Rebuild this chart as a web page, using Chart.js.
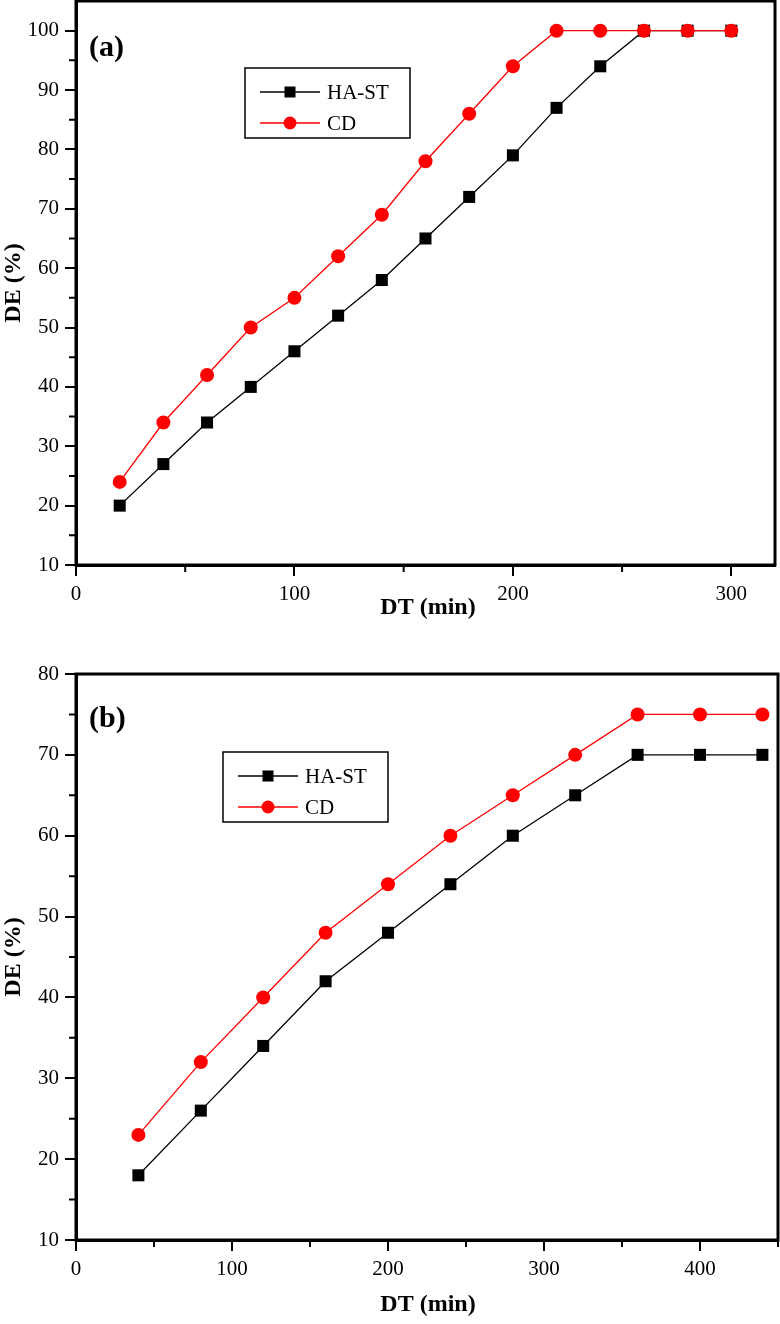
<!DOCTYPE html>
<html>
<head>
<meta charset="utf-8">
<script src="https://cdn.jsdelivr.net/npm/chart.js@4.4.0/dist/chart.umd.min.js"></script>
<style>
  body { margin: 0; background: #fff; }
  #wrapA { position: absolute; left: 0; top: 0; width: 780px; height: 640px; }
  #wrapB { position: absolute; left: 0; top: 640px; width: 780px; height: 684px; }
</style>
</head>
<body>
<div id="wrapA"><canvas id="chartA" width="780" height="640"></canvas></div>
<div id="wrapB"><canvas id="chartB" width="780" height="684"></canvas></div>
<script>
// panel (a)
const timeA = [20, 40, 60, 80, 100, 120, 140, 160, 180, 200, 220, 240, 260, 280, 300];
const hastA = [20, 27, 34, 40, 46, 52, 58, 65, 72, 79, 87, 94, 100, 100, 100];
const cdA   = [24, 34, 42, 50, 55, 62, 69, 78, 86, 94, 100, 100, 100, 100, 100];
const xMinorA = [50, 150, 250];
const yMinorA = [15, 25, 35, 45, 55, 65, 75, 85, 95];

// panel (b)
const timeB = [40, 80, 120, 160, 200, 240, 280, 320, 360, 400, 440];
const hastB = [18, 26, 34, 42, 48, 54, 60, 65, 70, 70, 70];
const cdB   = [23, 32, 40, 48, 54, 60, 65, 70, 75, 75, 75];
const xMinorB = [50, 150, 250, 350, 450];
const yMinorB = [15, 25, 35, 45, 55, 65, 75];

const seriesNames = ['HA-ST', 'CD'];
const SERIF = "'Liberation Serif', 'Times New Roman', serif";

function pts(xs, ys) {
  return xs.map((x, i) => ({ x: x, y: ys[i] }));
}

// frame, minor ticks, titles, panel label and the boxed legend
function decorPlugin(cfg) {
  return {
    id: 'decor',
    afterDraw(chart) {
      const c = chart.ctx, a = chart.chartArea;
      const xs = chart.scales.x, ys = chart.scales.y;
      c.save();
      c.strokeStyle = '#000';
      c.lineWidth = 3;
      c.strokeRect(a.left, a.top, a.right - a.left, a.bottom - a.top);

      c.lineWidth = 2;
      c.beginPath();
      cfg.xMinor.forEach(v => {
        const p = xs.getPixelForValue(v);
        c.moveTo(p, a.bottom); c.lineTo(p, a.bottom + 7);
      });
      cfg.yMinor.forEach(v => {
        const p = ys.getPixelForValue(v);
        c.moveTo(a.left, p); c.lineTo(a.left - 7, p);
      });
      c.stroke();

      c.fillStyle = '#000';
      c.font = 'bold 24px ' + SERIF;
      c.textAlign = 'center';
      c.textBaseline = 'middle';
      c.fillText('DT (min)', 428, cfg.xTitleY);
      c.save();
      c.translate(14, (a.top + a.bottom) / 2);
      c.rotate(-Math.PI / 2);
      c.fillText('DE (%)', 0, 0);
      c.restore();

      c.font = 'bold 30px ' + SERIF;
      c.textAlign = 'left';
      c.textBaseline = 'alphabetic';
      c.fillText(cfg.label, 89, cfg.labelY);

      // legend
      const L = cfg.legend;
      c.lineWidth = 1.5;
      c.strokeRect(L.x, L.y, 165, 70);
      const rows = [L.y + 24, L.y + 55];
      const lx = L.x + 15;
      rows.forEach((ry, i) => {
        c.beginPath();
        c.strokeStyle = i === 0 ? '#000' : '#ff0000';
        c.lineWidth = 1.3;
        c.moveTo(lx, ry); c.lineTo(lx + 60, ry);
        c.stroke();
        c.fillStyle = i === 0 ? '#000' : '#ff0000';
        if (i === 0) {
          c.fillRect(lx + 30 - 5.5, ry - 5.5, 11, 11);
        } else {
          c.beginPath();
          c.arc(lx + 30, ry, 6.5, 0, Math.PI * 2);
          c.fill();
        }
        c.fillStyle = '#000';
        c.font = '21px ' + SERIF;
        c.textBaseline = 'middle';
        c.fillText(seriesNames[i], lx + 67, ry + 1);
      });
      c.restore();
    }
  };
}

function makeChart(id, xs, s1, s2, o) {
  const keepMajor = step => scale => {
    scale.ticks = scale.ticks.filter(t => t.value % step === 0);
  };
  return new Chart(document.getElementById(id), {
    type: 'line',
    data: {
      datasets: [{
        label: seriesNames[0],
        data: pts(xs, s1),
        borderColor: '#000',
        backgroundColor: '#000',
        borderWidth: 1.3,
        pointStyle: 'rect',
        pointRadius: 8.5,
        pointBorderWidth: 0,
        order: 1
      }, {
        label: seriesNames[1],
        data: pts(xs, s2),
        borderColor: '#ff0000',
        backgroundColor: '#ff0000',
        borderWidth: 1.3,
        pointStyle: 'circle',
        pointRadius: 7,
        pointBorderWidth: 0,
        order: 0
      }]
    },
    options: {
      responsive: false,
      animation: false,
      devicePixelRatio: 1,
      layout: { padding: o.padding, autoPadding: false },
      plugins: { legend: { display: false }, tooltip: { enabled: false } },
      scales: {
        x: {
          type: 'linear',
          min: 0, max: o.xMax,
          afterBuildTicks: keepMajor(100),
          afterFit: s => { s.height = o.xAxisH; s.paddingLeft = 0; s.paddingRight = 0; },
          ticks: { stepSize: 100, includeBounds: false, autoSkip: false, color: '#000', font: { family: SERIF, size: 21 }, padding: 6, maxRotation: 0 },
          grid: { drawOnChartArea: false, tickLength: 11, color: '#000', lineWidth: 2 },
          border: { color: '#000', width: 3 }
        },
        y: {
          min: 10, max: o.yMax,
          afterBuildTicks: keepMajor(10),
          afterFit: s => { s.width = 76; s.paddingTop = 0; s.paddingBottom = 0; },
          ticks: { stepSize: 10, includeBounds: false, autoSkip: false, color: '#000', font: { family: SERIF, size: 21 }, padding: 6 },
          grid: { drawOnChartArea: false, tickLength: 11, color: '#000', lineWidth: 2 },
          border: { color: '#000', width: 3 }
        }
      }
    },
    plugins: [decorPlugin(o.decor)]
  });
}

makeChart('chartA', timeA, hastA, cdA, {
  xMax: 320, yMax: 105, xAxisH: 75,
  padding: { left: 0, top: 1, right: 5, bottom: 0 },
  decor: { xMinor: xMinorA, yMinor: yMinorA, xTitleY: 608, label: '(a)', labelY: 56,
           legend: { x: 245, y: 68 } }
});

makeChart('chartB', timeB, hastB, cdB, {
  xMax: 450, yMax: 80, xAxisH: 84,
  padding: { left: 0, top: 34, right: 2, bottom: 0 },
  decor: { xMinor: xMinorB, yMinor: yMinorB, xTitleY: 665, label: '(b)', labelY: 87,
           legend: { x: 223, y: 112 } }
});
</script>
</body>
</html>
